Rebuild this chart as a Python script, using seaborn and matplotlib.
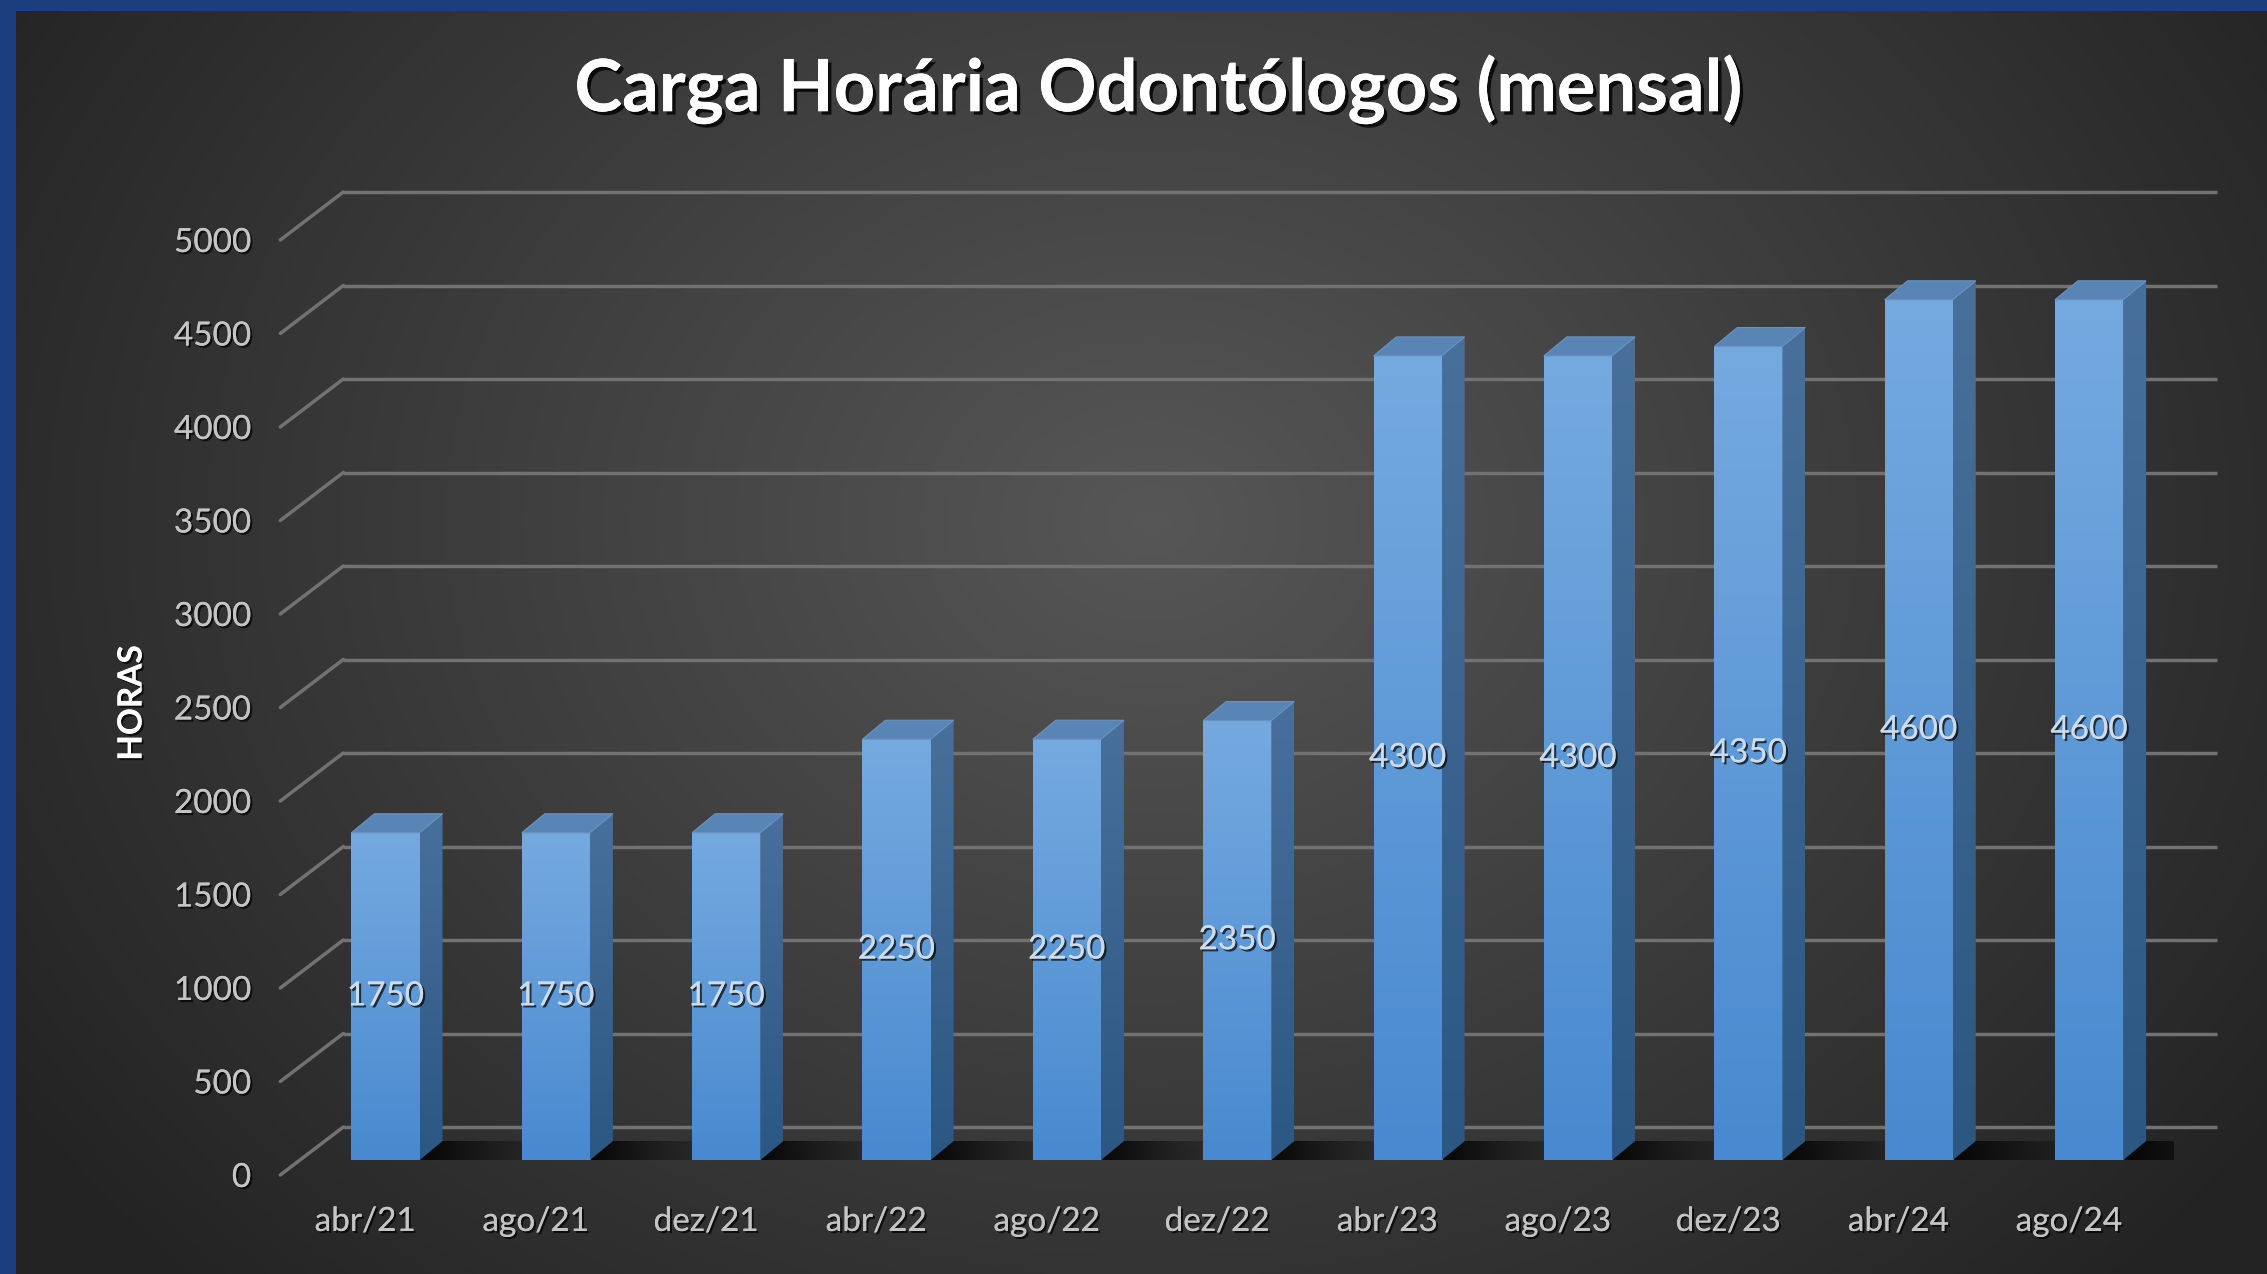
import numpy as np
import matplotlib
matplotlib.use('Agg')
import matplotlib.pyplot as plt
import matplotlib.transforms as mtransforms
import matplotlib.patheffects as pe
from matplotlib.colors import LinearSegmentedColormap
from matplotlib.patches import Polygon
import seaborn as sns

# Dados do gráfico
meses = ['abr/21', 'ago/21', 'dez/21', 'abr/22', 'ago/22', 'dez/22',
         'abr/23', 'ago/23', 'dez/23', 'abr/24', 'ago/24']
horas = [1750, 1750, 1750, 2250, 2250, 2350, 4300, 4300, 4350, 4600, 4600]
marcas_y = [0, 500, 1000, 1500, 2000, 2500, 3000, 3500, 4000, 4500, 5000]

sns.set_theme(style='white')
plt.rcParams['font.family'] = ['Lato', 'DejaVu Sans']

W, H, DPI = 2267, 1274, 100
fig = plt.figure(figsize=(W / DPI, H / DPI), dpi=DPI)
fig.patch.set_facecolor('#1b3e7e')

# Fundo escuro com gradiente radial (borda azul em cima e à esquerda)
fundo = fig.add_axes([16 / W, 0, 1 - 16 / W, 1 - 11 / H], zorder=0)
yy, xx = np.mgrid[11:H:4, 16:W:4]
d = np.sqrt((xx - 1150) ** 2 + ((yy - 520) / 0.8) ** 2)
v = 0.34 - (0.34 - 0.14) * np.clip(d / 1350, 0, 1)
fundo.imshow(np.dstack([v, v, v]), aspect='auto', interpolation='bilinear')
fundo.set_axis_off()

# Eixo principal: plano frontal das barras
ax = fig.add_axes([300.3 / W, 114 / H, 1873.9 / W, 935 / H], zorder=1)
ax.patch.set_alpha(0)
sns.barplot(x=meses, y=horas, ax=ax, color='#5b9bd5', width=0.4,
            saturation=1, zorder=3)
ax.set_xlim(-0.5, len(meses) - 0.5)
ax.set_ylim(0, 5000)
for s in ax.spines.values():
    s.set_visible(False)

px = 1 / DPI
tras = mtransforms.ScaledTranslation(43 * px, 33 * px, fig.dpi_scale_trans)
frente = mtransforms.ScaledTranslation(-20 * px, -15 * px, fig.dpi_scale_trans)
prof = np.array([23.0, 19.0])
ident = mtransforms.IdentityTransform()

# Linhas de grade na parede do fundo e diagonais à esquerda
ax.hlines(marcas_y, -0.5, len(meses) - 0.5, colors='#727272', lw=2.5,
          transform=ax.transData + tras, zorder=1, clip_on=False)
for y in marcas_y:
    p0 = (ax.transData + frente).transform((-0.5, y))
    p1 = (ax.transData + tras).transform((-0.5, y))
    ax.plot([p0[0], p1[0]], [p0[1], p1[1]], color='#727272', lw=2.5,
            transform=ident, clip_on=False, zorder=1)

cm_frente = LinearSegmentedColormap.from_list('f', ['#4889cf', '#75aae0'])
cm_lado = LinearSegmentedColormap.from_list('l', ['#2c5783', '#48709b'])
grad = np.linspace(0, 1, 256).reshape(-1, 1)
inv = ax.transData.inverted()


def imagem_recortada(pontos, cmap, img, z):
    poli = Polygon(pontos, closed=True, transform=ident, facecolor='none',
                   edgecolor='none')
    (x0, y0), (x1, y1) = inv.transform(pontos.min(axis=0)), inv.transform(pontos.max(axis=0))
    im = ax.imshow(img, extent=(x0, x1, y0, y1), origin='lower', aspect='auto',
                   cmap=cmap, interpolation='bilinear', zorder=z)
    im.set_clip_path(poli)
    return im


for barra in list(ax.patches):
    x0, w, h = barra.get_x(), barra.get_width(), barra.get_height()
    A = ax.transData.transform((x0 + w, 0))
    B = ax.transData.transform((x0 + w, h))
    C = ax.transData.transform((x0, h))
    # sombra no piso
    sombra = np.array([A, A + [105, 0], A + prof + [105, 0], A + prof])
    alfa = np.zeros((2, 256, 4))
    alfa[..., 3] = 0.2 + 0.7 * np.linspace(1, 0, 256) ** 1.5
    alfa[:, -60:, 3] *= np.linspace(1, 0, 60)
    imagem_recortada(sombra, None, alfa, 2)
    # face frontal
    ax.imshow(grad, extent=(x0, x0 + w, 0, h), origin='lower', aspect='auto',
              cmap=cm_frente, zorder=4)
    # face lateral
    lado = np.array([A, B, B + prof, A + prof])
    imagem_recortada(lado, cm_lado, grad, 4)
    # topo
    topo = np.array([C, B, B + prof, C + prof])
    ax.add_patch(Polygon(topo, closed=True, transform=ident,
                         facecolor='#5985b6', edgecolor='#6a94c2', lw=0.8,
                         zorder=4))
    barra.set_visible(False)

ax.set_xlim(-0.5, len(meses) - 0.5)
ax.set_ylim(0, 5000)

sombra_txt = [pe.withSimplePatchShadow(offset=(1.5, -1.5), shadow_rgbFace='black', alpha=0.7), pe.Normal()]

# Rótulos de valores no meio das barras
for i, valor in enumerate(horas):
    ax.text(i, valor / 2, f'{valor}', ha='center', va='center', fontsize=24,
            color='#d3deeb', alpha=0.85, zorder=6, path_effects=sombra_txt)

ax.set_yticks(marcas_y)
ax.set_yticklabels([str(m) for m in marcas_y])
ax.tick_params(axis='y', length=0, pad=21, labelsize=24, labelcolor='#c4c4c4')
ax.tick_params(axis='x', length=0, pad=23, labelsize=24, labelcolor='#c4c4c4')
for rot in ax.get_yticklabels() + ax.get_xticklabels():
    rot.set_transform(rot.get_transform() + frente)
    rot.set_path_effects(sombra_txt)
ax.set_xlabel('')
ax.set_ylabel('')

fig.text(132 / W, 1 - 703 / H, 'HORAS', rotation=90, ha='center', va='center',
         fontsize=24, fontweight='bold', color='white', path_effects=sombra_txt)
fig.text(1158 / W, 1 - 90 / H, 'Carga Horária Odontólogos (mensal)',
         ha='center', va='center', fontsize=52, fontweight='bold',
         color='white',
         path_effects=[pe.withSimplePatchShadow(offset=(2.5, -2.5), shadow_rgbFace='black', alpha=0.8), pe.Normal()])

fig.savefig('out.png', dpi=DPI, facecolor=fig.get_facecolor())
